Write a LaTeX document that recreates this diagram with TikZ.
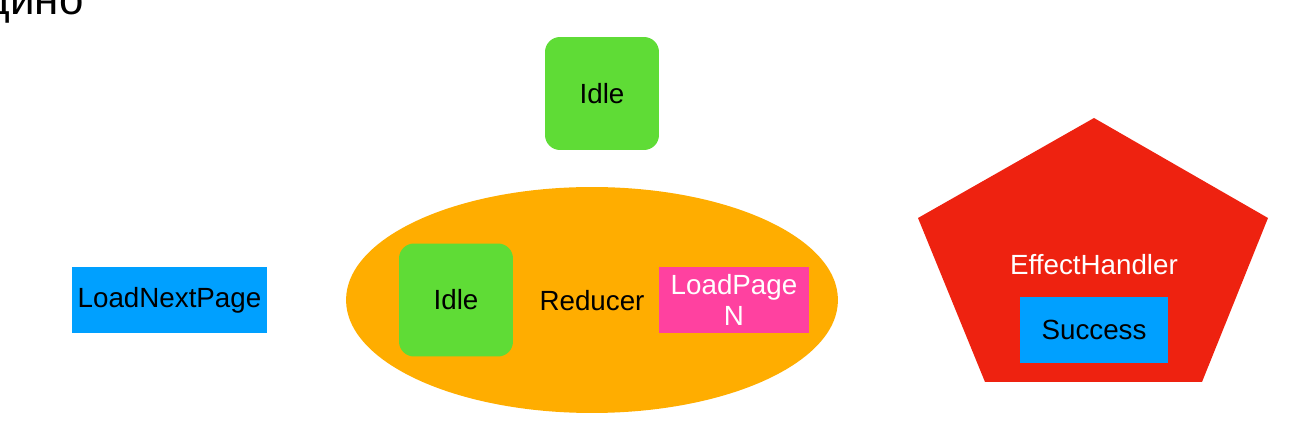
\documentclass[tikz,border=0pt]{standalone}
\usepackage{fontspec}
\setmainfont{Liberation Sans}
\usetikzlibrary{shapes.geometric, positioning}
\definecolor{idlegreen}{RGB}{95, 220, 54}
\definecolor{reducerorange}{RGB}{255, 173, 0}
\definecolor{actionblue}{RGB}{0, 160, 255}
\definecolor{loadpink}{RGB}{255, 65, 160}
\definecolor{effectred}{RGB}{238, 34, 16}

\begin{document}
\begin{tikzpicture}[
    x=0.02cm, y=-0.02cm,
    every node/.style={font=\fontsize{15.8}{17}\selectfont},
    state/.style={rectangle, rounded corners=0.3cm, fill=idlegreen, minimum width=2.28cm, minimum height=2.26cm},
    action/.style={rectangle, fill=actionblue, minimum height=1.32cm, inner sep=0pt},
    reducer/.style={ellipse, fill=reducerorange, minimum width=9.84cm, minimum height=4.52cm, inner sep=0pt}
]
\useasboundingbox (0,0) rectangle (1302,425);

% caption cut at the top
\node[anchor=base east, inner sep=0pt, font=\fontsize{25}{26}\selectfont] (title) at (84,15) {дино};

\node[state] (idletop) at (602,93.5) {Idle};

% reducer
\node[reducer] (reducer) at (592,300) {};
\node (reducerlabel) at (592,301) {Reducer};
\node[state] (idle) at (456,300) {Idle};
\node[action, fill=loadpink, text=white, minimum width=3cm, align=center, font=\fontsize{15.8}{18}\selectfont] (loadpage) at (734,300) {LoadPage\\N};

\node[action, minimum width=3.9cm] (loadnext) at (169.5,300) {LoadNextPage};

% effect handler
\fill[effectred] (1094,118) -- (1268,218) -- (1202,382) -- (985,382) -- (918,218) -- cycle;
\coordinate (effect) at (1094,265);
\node[text=white] (effectlabel) at (effect) {EffectHandler};
\node[action, minimum width=2.98cm, below=0.64cm of effectlabel.center, anchor=north] (success) {Success};
\end{tikzpicture}
\end{document}
